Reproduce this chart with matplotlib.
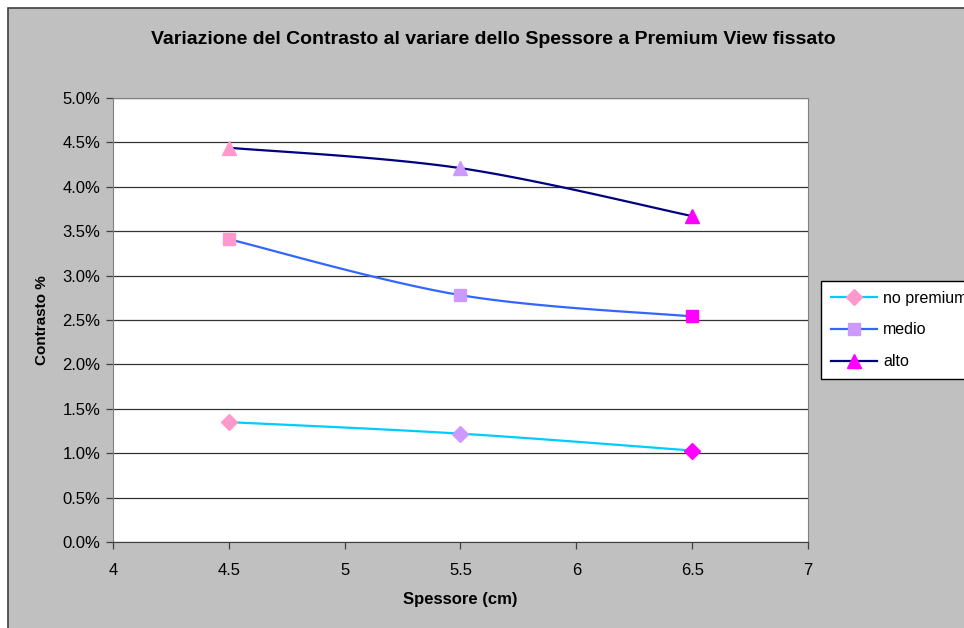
import numpy as np
import matplotlib.pyplot as plt
from matplotlib.lines import Line2D
from matplotlib.patches import Rectangle

plt.rcParams['font.family'] = ['Liberation Sans', 'DejaVu Sans']

spessore = [4.5, 5.5, 6.5]
no_premium = [1.35, 1.22, 1.03]
medio = [3.41, 2.78, 2.54]
alto = [4.44, 4.21, 3.67]
series_names = ['no premium', 'medio', 'alto']
point_colors = ['#FF99CC', '#CC99FF', '#FF00FF']

line_colors = ['#00CCFF', '#3366FF', '#000080']
markers = ['D', 's', '^']
msizes = [8, 8.5, 9.5]


def smooth(x, y, sx=231.7, sy=88.8, n=40):
    # excel-like smoothed line (catmull-rom bezier), in screen-ish units
    px = np.asarray(x, float) * sx
    py = np.asarray(y, float) * sy
    P = np.column_stack([px, py])
    P = np.vstack([P[0], P, P[-1]])
    t = np.linspace(0, 1, n)[:, None]
    out = []
    for i in range(1, len(P) - 2):
        p0, p1, p2, p3 = P[i - 1], P[i], P[i + 1], P[i + 2]
        c1 = p1 + (p2 - p0) / 6
        c2 = p2 - (p3 - p1) / 6
        seg = ((1 - t) ** 3) * p1 + 3 * ((1 - t) ** 2) * t * c1 + 3 * (1 - t) * t ** 2 * c2 + t ** 3 * p2
        out.append(seg)
    out = np.vstack(out)
    return out[:, 0] / sx, out[:, 1] / sy


fig = plt.figure(figsize=(9.64, 6.28), dpi=100)
fig.patch.set_facecolor('white')
fig.patches.append(Rectangle((8 / 964, -0.01), 1.0, 1 - 8 / 628 + 0.01, transform=fig.transFigure,
                             facecolor='#C0C0C0', edgecolor='#404040', linewidth=1.2, zorder=-5))

ax = fig.add_axes([113 / 964, 1 - 542 / 628, 695 / 964, 444 / 628])
ax.set_facecolor('white')

for vals, lc, m, ms in zip([no_premium, medio, alto], line_colors, markers, msizes):
    sx, sy = smooth(spessore, vals)
    ax.plot(sx, sy, color=lc, linewidth=1.6, zorder=3)
    for xv, yv, pc in zip(spessore, vals, point_colors):
        ax.plot([xv], [yv], marker=m, markersize=ms, color=pc, markeredgecolor=pc, linestyle='none', zorder=4)

ax.set_xlim(4, 7)
ax.set_ylim(0, 5)
ax.set_xticks(np.arange(4, 7.01, 0.5))
ax.set_xticklabels(['4', '4.5', '5', '5.5', '6', '6.5', '7'])
ax.set_yticks(np.arange(0, 5.01, 0.5))
ax.set_yticklabels(['%.1f%%' % v for v in np.arange(0, 5.01, 0.5)])
ax.grid(axis='y', color='#333333', linewidth=0.9)
ax.set_axisbelow(True)
ax.tick_params(direction='out', length=5, width=0.9, color='#404040', labelsize=12, pad=4)
ax.tick_params(axis='x', pad=10)
for s in ax.spines.values():
    s.set_color('#808080')
ax.spines['bottom'].set_color('#404040')

fig.text(493 / 964, 1 - 40 / 628,
         'Variazione del Contrasto al variare dello Spessore a Premium View fissato',
         fontsize=14, fontweight='bold', ha='center', va='center')
ax.set_xlabel('Spessore (cm)', fontsize=12, fontweight='bold', labelpad=10)
ax.set_ylabel('Contrasto %', fontsize=11, fontweight='bold', labelpad=10)

handles = [Line2D([], [], color=lc, marker=m, markersize=ms, markerfacecolor=pc, markeredgecolor=pc, linewidth=1.6)
           for lc, m, ms, pc in zip(line_colors, markers, msizes, point_colors)]
leg = fig.legend(handles, series_names, loc='upper left', bbox_to_anchor=(821 / 964, 1 - 281 / 628),
                 frameon=True, fancybox=False, framealpha=1, fontsize=11.5, handlelength=2.9,
                 handletextpad=0.4, borderaxespad=0, borderpad=0.6, labelspacing=1.05)
leg.get_frame().set_edgecolor('black')
leg.get_frame().set_facecolor('white')
leg.get_frame().set_linewidth(1)

fig.savefig('out.png', dpi=100)
